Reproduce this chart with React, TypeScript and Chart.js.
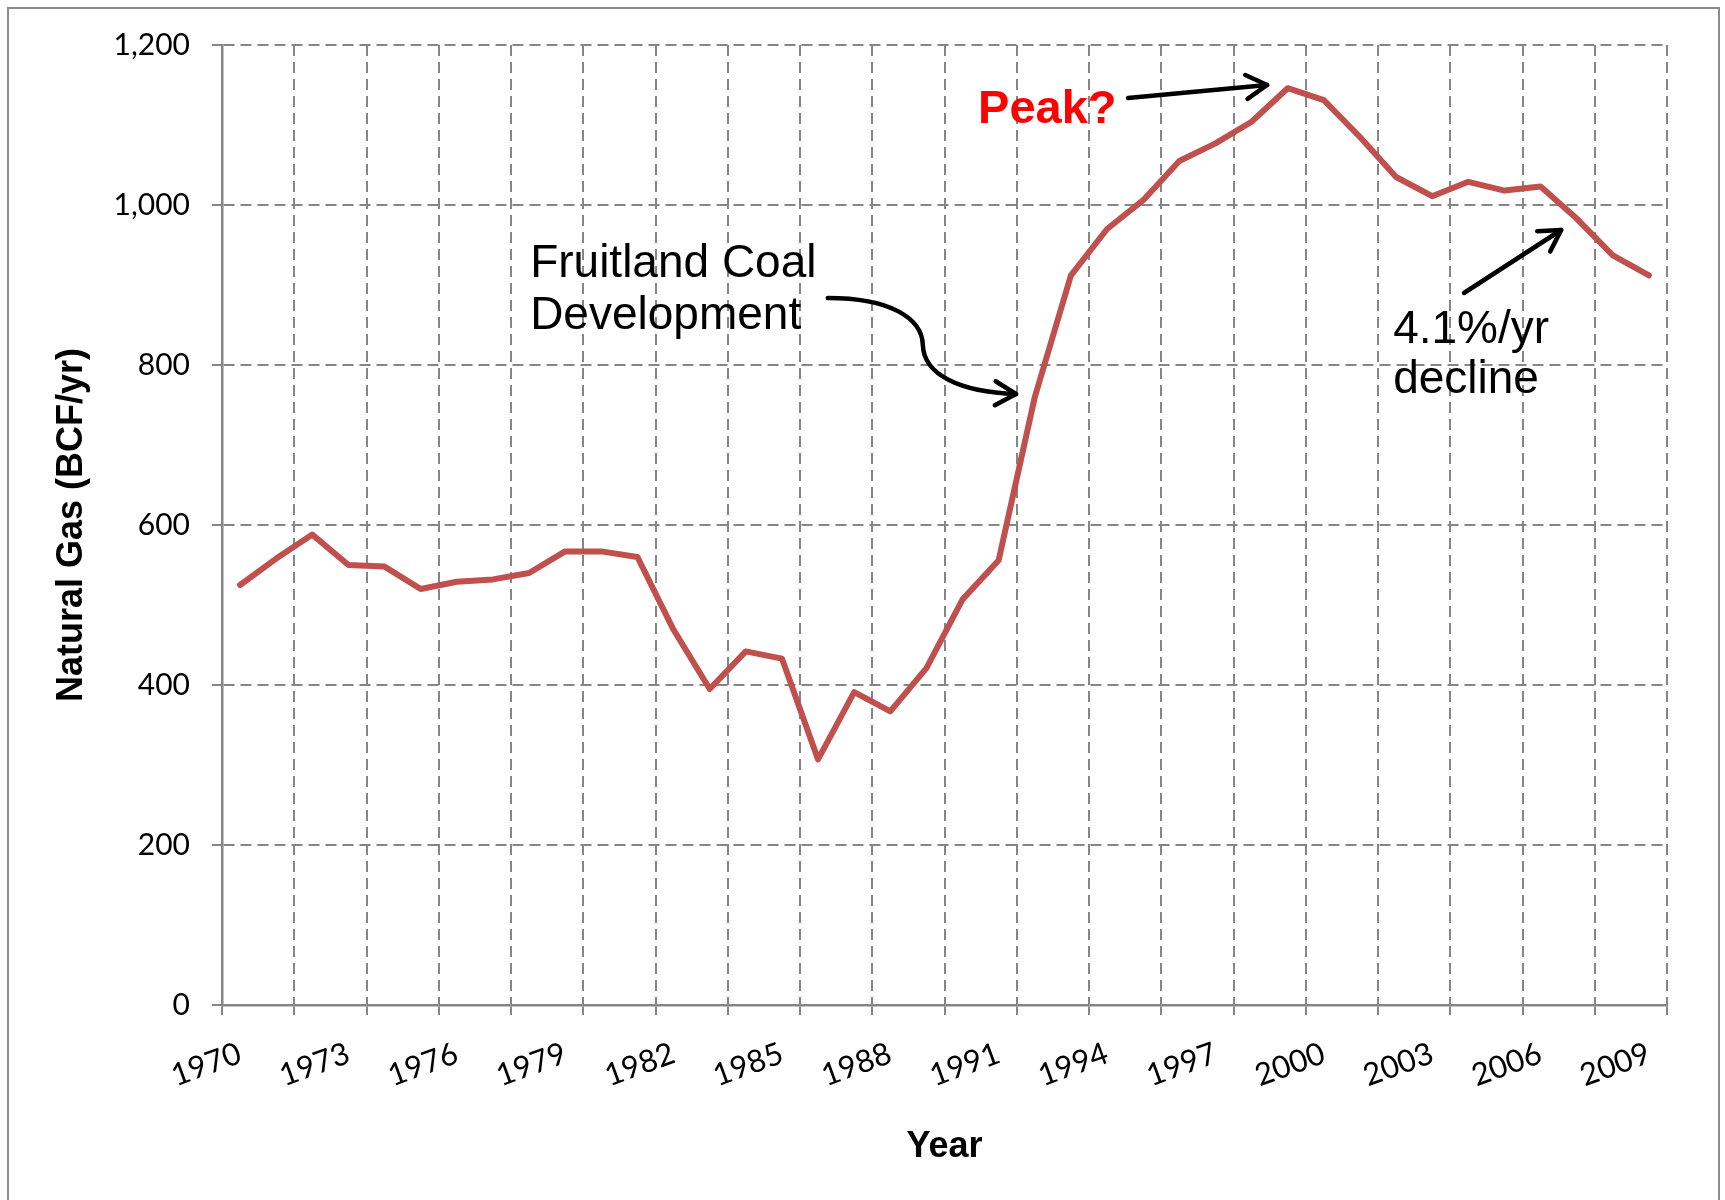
import React, { useEffect, useRef } from "react";
import { Chart, registerables } from "chart.js";

Chart.register(...registerables);

// ---------------- data ----------------
const years: string[] = [
  "1970", "1971", "1972", "1973", "1974", "1975", "1976", "1977", "1978", "1979",
  "1980", "1981", "1982", "1983", "1984", "1985", "1986", "1987", "1988", "1989",
  "1990", "1991", "1992", "1993", "1994", "1995", "1996", "1997", "1998", "1999",
  "2000", "2001", "2002", "2003", "2004", "2005", "2006", "2007", "2008", "2009",
];

const gasBcf: number[] = [
  525, 558, 588, 550, 548, 520, 529, 532, 540, 567,
  567, 560, 469, 395, 442, 433, 307, 391, 367, 421,
  507, 556, 760, 912, 970, 1006, 1055, 1077, 1104, 1146,
  1131, 1085, 1035, 1011, 1029, 1018, 1023, 983, 937, 912,
];

const yMin = 0;
const yMax = 1200;
const yStep = 200;
const xLabelEvery = 3;
const xGridEvery = 2;

// annotations, in data space: [category index, BCF/yr]
const peakText = "Peak?";
const peakTextAt = [20.43, 1102.5];
const peakArrowFrom = [24.58, 1133.75];
const peakArrowTo = [28.43, 1150];

const fruitlandLines = ["Fruitland Coal", "Development"];
const fruitlandAt = [[8.03, 910], [8.03, 845]];
const fruitlandCurve = [
  [16.27, 883.75], [17.99, 883.75], [18.88, 858.75], [18.9, 825],
  [18.93, 787.5], [19.93, 766.25], [21.48, 763.75],
];

const declineLines = ["4.1%/yr", "decline"];
const declineAt = [[31.92, 827.5], [31.92, 765]];
const declineArrowFrom = [33.88, 890];
const declineArrowTo = [36.57, 968.75];

// ---------------- styles ----------------
const GRID = "#868686";
const LINE = "#C0504D";
const ARIAL = "'Liberation Sans', Arial, Helvetica, sans-serif";
const TICKFONT = "Lato, 'Open Sans', sans-serif";

function arrowHead(ctx: CanvasRenderingContext2D, tip: number[], from: number[], len = 24, spread = Math.PI / 6) {
  const a = Math.atan2(tip[1] - from[1], tip[0] - from[0]);
  ctx.beginPath();
  ctx.moveTo(tip[0] - len * Math.cos(a - spread), tip[1] - len * Math.sin(a - spread));
  ctx.lineTo(tip[0], tip[1]);
  ctx.lineTo(tip[0] - len * Math.cos(a + spread), tip[1] - len * Math.sin(a + spread));
  ctx.stroke();
}

const annotationPlugin = {
  id: "sketchAnnotations",
  afterDatasetsDraw(chart: any) {
    const ctx: CanvasRenderingContext2D = chart.ctx;
    const xs = chart.scales.x;
    const ys = chart.scales.y;
    const P = (p: number[]) => [xs.getPixelForValue(p[0]), ys.getPixelForValue(p[1])];

    ctx.save();
    ctx.textAlign = "left";
    ctx.textBaseline = "alphabetic";

    ctx.fillStyle = "#000";
    ctx.font = `46px ${ARIAL}`;
    fruitlandLines.forEach((t, i) => {
      const [x, y] = P(fruitlandAt[i]);
      ctx.fillText(t, x, y);
    });
    declineLines.forEach((t, i) => {
      const [x, y] = P(declineAt[i]);
      ctx.fillText(t, x, y);
    });

    ctx.fillStyle = "#FF0000";
    ctx.font = `bold 47px ${ARIAL}`;
    {
      const [x, y] = P(peakTextAt);
      ctx.fillText(peakText, x, y);
    }

    ctx.strokeStyle = "#000";
    ctx.lineWidth = 4.5;
    ctx.lineCap = "round";
    ctx.lineJoin = "round";

    // peak arrow
    {
      const a = P(peakArrowFrom);
      const b = P(peakArrowTo);
      ctx.beginPath();
      ctx.moveTo(a[0], a[1]);
      ctx.lineTo(b[0], b[1]);
      ctx.stroke();
      arrowHead(ctx, b, a);
    }
    // decline arrow
    {
      const a = P(declineArrowFrom);
      const b = P(declineArrowTo);
      ctx.beginPath();
      ctx.moveTo(a[0], a[1]);
      ctx.lineTo(b[0], b[1]);
      ctx.stroke();
      arrowHead(ctx, b, a);
    }
    // fruitland curved arrow
    {
      const p = fruitlandCurve.map(P);
      ctx.beginPath();
      ctx.moveTo(p[0][0], p[0][1]);
      ctx.bezierCurveTo(p[1][0], p[1][1], p[2][0], p[2][1], p[3][0], p[3][1]);
      ctx.bezierCurveTo(p[4][0], p[4][1], p[5][0], p[5][1], p[6][0], p[6][1]);
      ctx.stroke();
      arrowHead(ctx, p[6], p[5]);
    }
    ctx.restore();
  },
};

export default function App() {
  const ref = useRef<HTMLCanvasElement>(null);

  useEffect(() => {
    document.body.style.margin = "0";
    const canvas = ref.current;
    if (!canvas) return;

    const xGridColor = (c: any) => {
      const i = c.index;
      if (i === undefined) return GRID;
      return i > 0 && i % xGridEvery === 0 ? GRID : "transparent";
    };
    const xTickColor = (c: any) => {
      const i = c.index;
      if (i === undefined) return GRID;
      return i % xGridEvery === 0 ? GRID : "transparent";
    };

    const chart = new Chart(canvas, {
      type: "line",
      data: {
        labels: years,
        datasets: [
          {
            label: "Natural Gas",
            data: gasBcf,
            borderColor: LINE,
            backgroundColor: LINE,
            borderWidth: 6,
            pointRadius: 0,
            pointHoverRadius: 0,
            tension: 0,
            fill: false,
            borderJoinStyle: "round",
            borderCapStyle: "round",
          },
        ],
      },
      options: {
        responsive: false,
        animation: false,
        devicePixelRatio: 1,
        events: [],
        locale: "en-US",
        layout: { padding: { left: 0, top: 45, right: 58, bottom: 0 } },
        plugins: {
          legend: { display: false },
          tooltip: { enabled: false },
        },
        scales: {
          x: {
            type: "category",
            offset: true,
            grid: {
              offset: true,
              color: xGridColor,
              lineWidth: 2,
              tickLength: 10,
              tickColor: xTickColor,
              tickWidth: 2,
              tickBorderDash: [],
            },
            border: { display: true, color: GRID, width: 2.5, dash: [11, 6] },
            ticks: {
              autoSkip: false,
              minRotation: 20,
              maxRotation: 20,
              padding: 20,
              color: "#000",
              font: { family: TICKFONT, size: 31 },
              callback: (_v: any, i: number) => (i % xLabelEvery === 0 ? years[i] : ""),
            },
            title: {
              display: true,
              text: "Year",
              color: "#000",
              font: { family: ARIAL, size: 36, weight: "bold" },
              padding: { top: 0, bottom: 31 },
            },
            afterFit: (s: any) => {
              s.height = 195;
            },
          },
          y: {
            min: yMin,
            max: yMax,
            grid: {
              color: GRID,
              lineWidth: 2,
              tickLength: 10,
              tickColor: GRID,
              tickWidth: 2,
              tickBorderDash: [],
            },
            border: { display: true, color: GRID, width: 2.5, dash: [11, 6] },
            ticks: {
              stepSize: yStep,
              padding: 22,
              color: "#000",
              font: { family: TICKFONT, size: 30 },
            },
            title: {
              display: true,
              text: "Natural Gas (BCF/yr)",
              color: "#000",
              font: { family: ARIAL, size: 36, weight: "bold" },
              padding: { top: 50, bottom: 0 },
            },
            afterFit: (s: any) => {
              s.width = 222;
            },
          },
        },
      } as any,
      plugins: [annotationPlugin],
    });

    return () => chart.destroy();
  }, []);

  return (
    <div
      style={{
        position: "fixed",
        left: 0,
        top: 0,
        width: 1725,
        height: 1200,
        overflow: "hidden",
        background: "#ffffff",
      }}
    >
      <div
        style={{
          position: "absolute",
          left: 7,
          top: 7,
          width: 1713,
          height: 1300,
          border: "2px solid #8c8c8c",
          boxSizing: "border-box",
        }}
      />
      <canvas
        ref={ref}
        width={1725}
        height={1200}
        style={{ position: "absolute", left: 0, top: 0, width: 1725, height: 1200 }}
      />
    </div>
  );
}
